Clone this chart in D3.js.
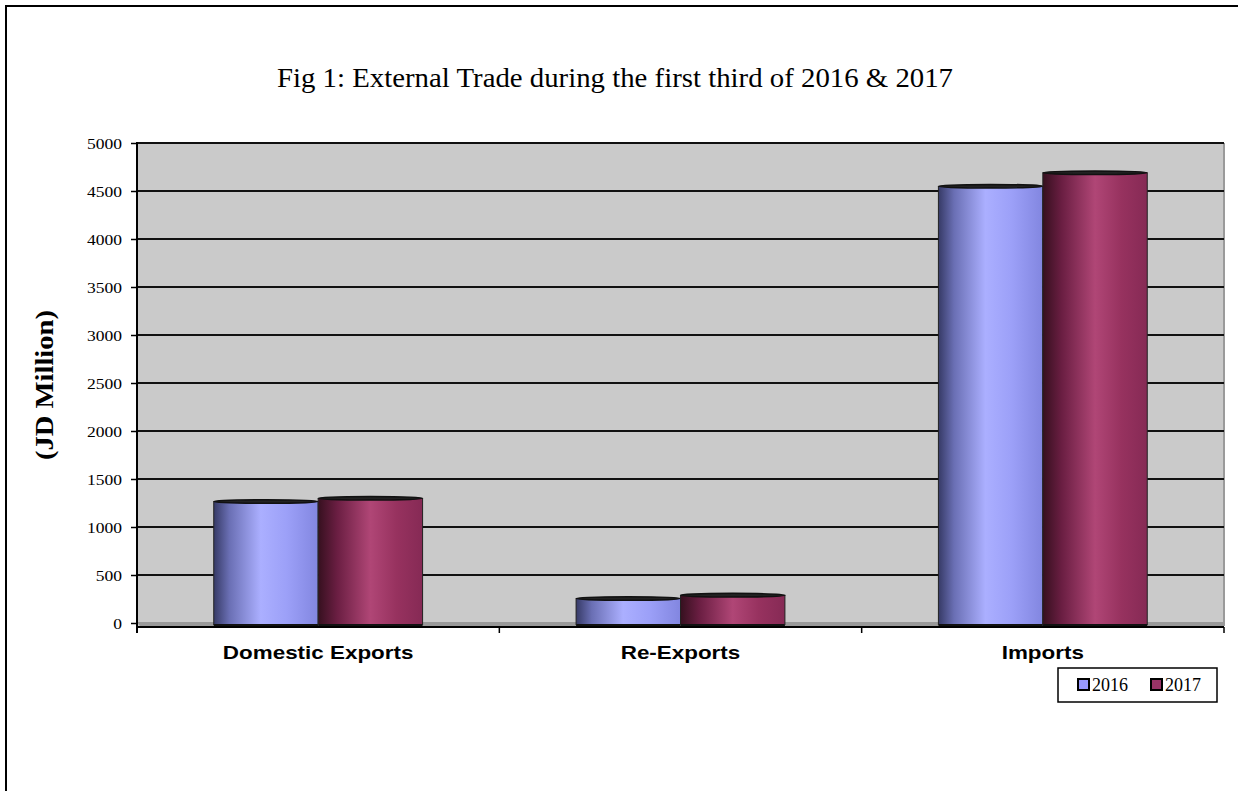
<!DOCTYPE html>
<html><head><meta charset="utf-8">
<script src="https://cdn.jsdelivr.net/npm/d3@7"></script>
<style>html,body{margin:0;padding:0;background:#fff;}svg{display:block;}</style>
</head><body>
<script>
const categories = ["Domestic Exports", "Re-Exports", "Imports"];
const years = ["2016", "2017"];
const values2016 = [1265, 255, 4550];
const values2017 = [1300, 290, 4690];
const yTicks = [0, 500, 1000, 1500, 2000, 2500, 3000, 3500, 4000, 4500, 5000];
const titleText = "Fig 1: External Trade during the first third of 2016 & 2017";
const yLabelText = "(JD Million)";

const W = 1238, H = 791;
const svg = d3.select("body").append("svg").attr("width", W).attr("height", H);
const defs = svg.append("defs");

// frame
svg.append("rect").attr("x", 6).attr("y", 6).attr("width", W + 20).attr("height", H + 20)
  .attr("fill", "#fff").attr("stroke", "#000").attr("stroke-width", 2);

const plot = {left: 137, right: 1224, top: 143, bottom: 623};
const x0 = d3.scaleBand().domain(categories).range([plot.left, plot.right]).paddingInner(0).paddingOuter(0);
const x1 = d3.scaleBand().domain(years).range([0, x0.bandwidth()]).paddingInner(0).paddingOuter(0.735);
const y = d3.scaleLinear().domain([0, 5000]).range([plot.bottom, plot.top]);

function fitWidth(sel, target) {
  sel.attr("textLength", target).attr("lengthAdjust", "spacingAndGlyphs");
}
function stretch(sel, k) {
  sel.each(function() {
    const L = this.getComputedTextLength();
    d3.select(this).attr("textLength", L * k).attr("lengthAdjust", "spacingAndGlyphs");
  });
}

// gradients
const grads = {
  "2016": [["0%", "#363a66"], ["15%", "#6a6fb4"], ["45%", "#abafff"], ["70%", "#9ca0f8"], ["100%", "#8286e0"]],
  "2017": [["0%", "#36101f"], ["18%", "#6a1e42"], ["50%", "#b04676"], ["75%", "#97325f"], ["100%", "#862a55"]]
};
const swatch = {"2016": "#9999ff", "2017": "#993366"};
years.forEach(yr => {
  const g = defs.append("linearGradient").attr("id", "g" + yr).attr("x1", "0%").attr("x2", "100%").attr("y1", "0%").attr("y2", "0%");
  grads[yr].forEach(s => g.append("stop").attr("offset", s[0]).attr("stop-color", s[1]));
});

// plot background
svg.append("rect").attr("x", plot.left).attr("y", plot.top)
  .attr("width", plot.right - plot.left).attr("height", plot.bottom + 3 - plot.top)
  .attr("fill", "#cacaca");
svg.append("line").attr("x1", plot.right).attr("x2", plot.right).attr("y1", plot.top).attr("y2", plot.bottom + 3)
  .attr("stroke", "#9a9a9a").attr("stroke-width", 2);
// floor
svg.append("path")
  .attr("d", `M${plot.left},${plot.bottom - 1}L${plot.right},${plot.bottom - 1}L${plot.right},${plot.bottom + 3}L${plot.left + 3},${plot.bottom + 3}Z`)
  .attr("fill", "#999");

// gridlines
svg.append("g").selectAll("line").data(yTicks.filter(d => d > 0)).join("line")
  .attr("x1", plot.left).attr("x2", plot.right)
  .attr("y1", d => y(d)).attr("y2", d => y(d))
  .attr("stroke", "#111").attr("stroke-width", 2);

// y axis
const yAxis = svg.append("g").attr("transform", `translate(${plot.left},0)`)
  .call(d3.axisLeft(y).tickValues(yTicks).tickSize(6).tickPadding(0).tickFormat(d3.format("d")));
yAxis.select(".domain").remove();
yAxis.selectAll(".tick line").attr("stroke", "#000").attr("stroke-width", 1.5);
yAxis.selectAll(".tick text").attr("x", -15).attr("dy", "0.62em").attr("y", -3)
  .attr("font-family", "Liberation Serif, Times New Roman, serif").attr("font-size", 14).attr("fill", "#000")
  .call(stretch, 1.25);
svg.append("line").attr("x1", plot.left).attr("x2", plot.left).attr("y1", plot.top - 1).attr("y2", plot.bottom + 10)
  .attr("stroke", "#000").attr("stroke-width", 2);

// bars
const barG = svg.append("g");
categories.forEach((c, i) => {
  const vals = {"2016": values2016[i], "2017": values2017[i]};
  years.forEach(yr => {
    const bx = x0(c) + x1(yr), bw = x1.bandwidth();
    const top = y(vals[yr]), bot = y(0) + 2;
    const ry = 1.8;
    barG.append("rect").attr("x", bx).attr("y", top).attr("width", bw).attr("height", bot - top)
      .attr("fill", `url(#g${yr})`);
    barG.append("line").attr("x1", bx).attr("x2", bx + bw).attr("y1", bot).attr("y2", bot)
      .attr("stroke", "#111").attr("stroke-width", 2);
    barG.append("line").attr("x1", bx).attr("x2", bx).attr("y1", top).attr("y2", bot)
      .attr("stroke", "#222").attr("stroke-width", 1);
    barG.append("line").attr("x1", bx + bw).attr("x2", bx + bw).attr("y1", top).attr("y2", bot)
      .attr("stroke", "#222").attr("stroke-width", 1);
    barG.append("ellipse").attr("cx", bx + bw / 2).attr("cy", top).attr("rx", bw / 2).attr("ry", ry)
      .attr("fill", "#222").attr("stroke", "#111").attr("stroke-width", 1.5);
  });
});

// x axis baseline & ticks
svg.append("line").attr("x1", plot.left).attr("x2", plot.right).attr("y1", plot.bottom + 4).attr("y2", plot.bottom + 4)
  .attr("stroke", "#000").attr("stroke-width", 2);
const boundaries = categories.map(c => x0(c)).concat([x0(categories[categories.length - 1]) + x0.bandwidth()]);
svg.append("g").selectAll("line").data(boundaries).join("line")
  .attr("x1", d => d).attr("x2", d => d).attr("y1", plot.bottom + 4).attr("y2", plot.bottom + 10)
  .attr("stroke", "#000").attr("stroke-width", 1.5);

// category labels
svg.append("g").selectAll("text").data(categories).join("text")
  .attr("x", d => x0(d) + x0.bandwidth() / 2).attr("y", 659)
  .attr("text-anchor", "middle")
  .attr("font-family", "Liberation Sans, Arial, sans-serif").attr("font-weight", "bold").attr("font-size", 19)
  .attr("fill", "#000")
  .text(d => d)
  .call(stretch, 1.18);

// title
svg.append("text").attr("x", 615).attr("y", 87).attr("text-anchor", "middle")
  .attr("font-family", "Liberation Serif, Times New Roman, serif").attr("font-size", 27).attr("fill", "#000")
  .text(titleText).call(fitWidth, 676);

// y label
svg.append("text").attr("transform", "translate(53,385) rotate(-90)").attr("text-anchor", "middle")
  .attr("font-family", "Liberation Serif, Times New Roman, serif").attr("font-weight", "bold").attr("font-size", 25)
  .attr("fill", "#000").text(yLabelText).call(fitWidth, 150);

// legend
const leg = svg.append("g");
leg.append("rect").attr("x", 1058).attr("y", 668).attr("width", 159).attr("height", 34)
  .attr("fill", "#fff").attr("stroke", "#000").attr("stroke-width", 1.5);
years.forEach((yr, i) => {
  const lx = 1078 + i * 73;
  leg.append("rect").attr("x", lx).attr("y", 679).attr("width", 11).attr("height", 11)
    .attr("fill", swatch[yr]).attr("stroke", "#000").attr("stroke-width", 2);
  leg.append("text").attr("x", lx + 14).attr("y", 691)
    .attr("font-family", "Liberation Serif, Times New Roman, serif").attr("font-size", 18).attr("fill", "#000")
    .text(yr);
});
</script>
</body></html>
